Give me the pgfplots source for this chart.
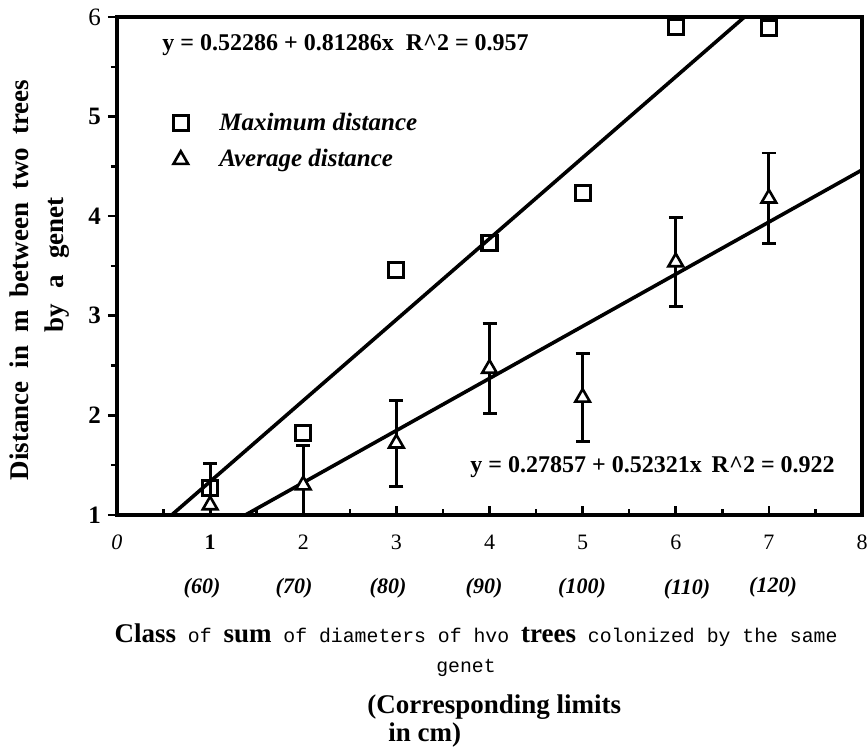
\documentclass[border=0pt]{standalone}
\usepackage{fontspec}
\setmainfont{Liberation Serif}
\setmonofont{Liberation Mono}
\usepackage{pgfplots}
\pgfplotsset{compat=1.18}

\begin{document}
\begin{tikzpicture}
\useasboundingbox (-58.5pt,-116.5pt) rectangle (375pt,257.5pt);
\begin{axis}[
  at={(0pt,0pt)}, anchor=south west,
  scale only axis, width=372.5pt, height=249pt,
  xmin=0, xmax=8, ymin=1, ymax=6,
  axis line style={line width=1.6pt},
  xtick={0,1,2,3,4,5,6,7,8},
  xticklabels={\mbox{\itshape 0},\mbox{\bfseries 1},\mbox{2},\mbox{3},\mbox{4},\mbox{5},\mbox{6},\mbox{7},\mbox{8}},
  minor xtick={0.5,1.5,2.5,3.5,4.5,5.5,6.5,7.5},
  ytick={1,2,3,4,5,6},
  yticklabels={\mbox{\bfseries 1},\mbox{\bfseries 2},\mbox{\bfseries 3},\mbox{\bfseries 4},\mbox{\bfseries 5},\mbox{6}},
  minor ytick={1.5,2.5,3.5,4.5,5.5},
  xtick pos=bottom, ytick pos=left,
  xtick align=inside, ytick align=outside,
  major tick length=4.5pt, minor tick length=3pt,
  tick style={black, line width=1.3pt},
  xticklabel style={font=\fontsize{11}{11}\selectfont, yshift=-6.5pt},
  yticklabel style={font=\fontsize{12.5}{12.5}\selectfont},
  /pgf/number format/assume math mode=true,
  clip=true,
  reverse legend,
  legend cell align=left,
  legend style={draw=none, fill=none, inner sep=0pt, nodes={inner sep=0pt},
    column sep=15.5pt, row sep=8pt,
    at={(axis cs:0.60,4.75)}, anchor=west,
    font=\fontsize{12.5}{13}\selectfont\bfseries\itshape},
]
% regression lines
\addplot[black, line width=1.8pt, forget plot] coordinates {(0.58699,1) (6.73812,6)};
\addplot[black, line width=1.8pt, forget plot] coordinates {(1.37885,1) (8,4.46425)};
% average distance with error bars
\addplot[black, only marks, mark=triangle*, mark size=4.2pt,
  mark options={fill=white, draw=black, line width=1.3pt},
  error bars/.cd, y dir=both, y explicit,
  error bar style={line width=1.4pt, black},
  error mark options={rotate=90, line width=1.4pt, mark size=3.5pt, black}]
  table[x=x, y=y, y error=e] {
  x y e
  1 1.10 0.42
  2 1.30 0.40
  3 1.72 0.43
  4 2.47 0.45
  5 2.18 0.44
  6 3.54 0.45
  7 4.18 0.455
  };
\addlegendentry{Average distance}
% maximum distance
\addplot[black, only marks, mark=square, mark size=3.75pt,
  mark options={line width=1.6pt, draw=black}]
  coordinates {(1,1.27) (2,1.82) (3,3.46) (4,3.73) (5,4.23) (6,5.90) (7,5.89)};
\addlegendentry{Maximum distance}
\end{axis}
% equations
\node[anchor=west, inner sep=0pt, font=\fontsize{12}{12}\selectfont\bfseries] at (22.5pt,235pt)
  {y = 0.52286 + 0.81286x\hspace{6pt}R\textasciicircum 2 = 0.957};
\node[anchor=west, inner sep=0pt, font=\fontsize{12}{12}\selectfont\bfseries] at (176.5pt,24pt)
  {y = 0.27857 + 0.52321x\hspace{5pt}R\textasciicircum 2 = 0.922};
% second row of class limits
\begin{scope}[every node/.style={inner sep=0pt, font=\fontsize{11}{11}\selectfont\bfseries\itshape}]
\node at (42.5pt,-36.5pt) {(60)};
\node at (88.5pt,-36.5pt) {(70)};
\node at (135.5pt,-36.5pt) {(80)};
\node at (183.5pt,-36.5pt) {(90)};
\node at (232.5pt,-36.5pt) {(100)};
\node at (285pt,-37pt) {(110)};
\node at (328pt,-36pt) {(120)};
\end{scope}
% x label
\node[inner sep=0pt, font=\fontsize{9.9}{11}\selectfont\ttfamily] at (179.5pt,-60pt)
  {{\rmfamily\bfseries\fontsize{13.5}{13.5}\selectfont Class} of {\rmfamily\bfseries\fontsize{13.5}{13.5}\selectfont sum} of diameters of hvo {\rmfamily\bfseries\fontsize{13.5}{13.5}\selectfont trees} colonized by the same};
\node[inner sep=0pt, font=\fontsize{9.9}{11}\selectfont\ttfamily] at (174.5pt,-76.5pt) {genet};
\node[anchor=west, inner sep=0pt, font=\fontsize{13.5}{13.5}\selectfont\bfseries] at (125pt,-96pt) {(Corresponding limits};
\node[anchor=west, inner sep=0pt, font=\fontsize{13.5}{13.5}\selectfont\bfseries] at (135.5pt,-110pt) {in cm)};
% y label
\node[rotate=90, inner sep=0pt, font=\fontsize{13.5}{13.5}\selectfont\bfseries] at (-49pt,117.5pt)
  {Distance\hspace{6.5pt}in\hspace{6.5pt}m\hspace{6.5pt}between\hspace{6.5pt}two\hspace{6.5pt}trees};
\node[rotate=90, inner sep=0pt, font=\fontsize{13.5}{13.5}\selectfont\bfseries] at (-30pt,125pt)
  {by\hspace{8pt}a\hspace{8pt}genet};
\end{tikzpicture}
\end{document}
